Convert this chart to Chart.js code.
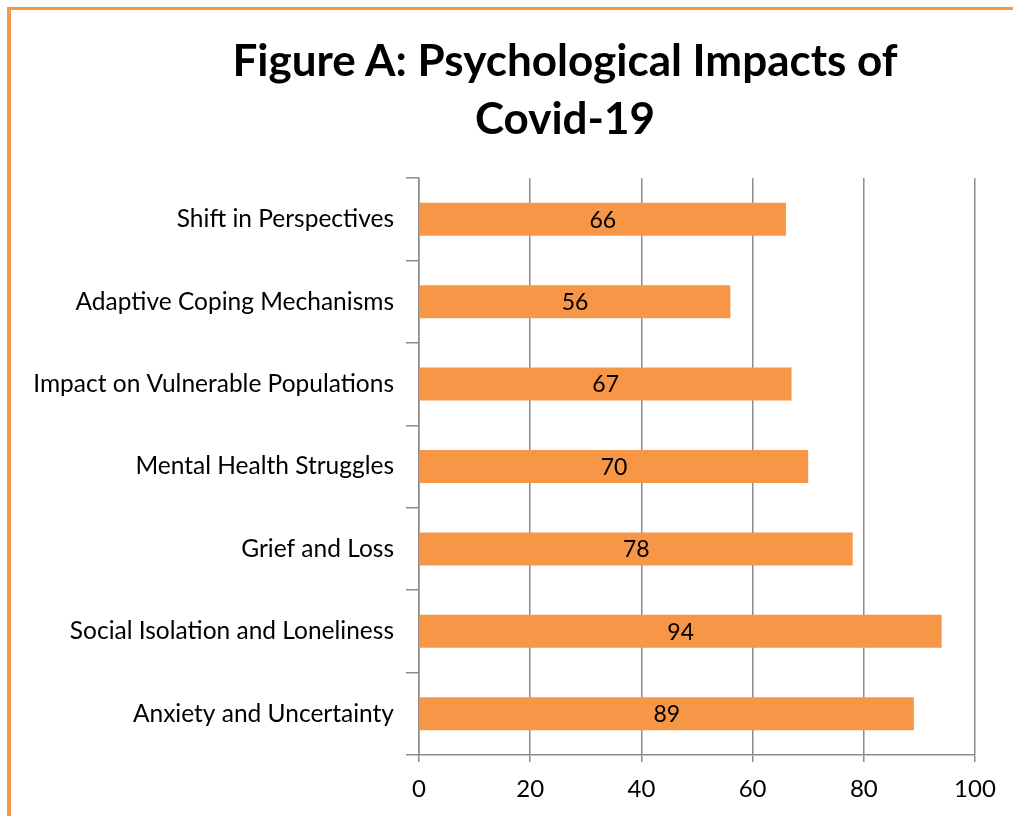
<!DOCTYPE html>
<html>
<head>
<meta charset="utf-8">
<script src="https://cdn.jsdelivr.net/npm/chart.js@4.4.1/dist/chart.umd.min.js"></script>
<style>
  body { margin: 0; background: #fff; }
  #wrap { position: relative; width: 1014px; height: 816px; overflow: hidden; }
  #frame { position: absolute; left: 7px; top: 7px; width: 1006px; height: 820px;
           border-top: 3px solid #F79646; border-left: 4px solid #F79646; box-sizing: border-box; }
  #title { position: absolute; left: 165px; width: 800px; top: 30px; text-align: center;
           font-family: Lato, sans-serif; font-weight: bold; font-size: 44px; line-height: 58px; color: #000; }
  canvas { position: absolute; left: 0; top: 0; }
</style>
</head>
<body>
<div id="wrap">
  <div id="frame"></div>
  <canvas id="chartBar" width="1014" height="816"></canvas>
  <div id="title">Figure A: Psychological Impacts of<br>Covid-19</div>
</div>
<script>
const categories = [
  "Shift in Perspectives",
  "Adaptive Coping Mechanisms",
  "Impact on Vulnerable Populations",
  "Mental Health Struggles",
  "Grief and Loss",
  "Social Isolation and Loneliness",
  "Anxiety and Uncertainty"
];
const values = [66, 56, 67, 70, 78, 94, 89];
const xTicks = [0, 20, 40, 60, 80, 100];

const barLabels = {
  id: "barLabels",
  afterDatasetsDraw(chart) {
    const ctx = chart.ctx;
    const meta = chart.getDatasetMeta(0);
    ctx.save();
    ctx.font = "23px Lato, sans-serif";
    ctx.fillStyle = "#000";
    ctx.textAlign = "center";
    ctx.textBaseline = "middle";
    meta.data.forEach((bar, i) => {
      ctx.fillText(values[i], (bar.x + bar.base) / 2, bar.y + 1);
    });
    ctx.restore();
  }
};

const ctxBar = document.getElementById("chartBar").getContext("2d");

new Chart(ctxBar, {
  type: "bar",
  data: {
    labels: categories,
    datasets: [
      {
        label: "Psychological Impacts",
        data: values,
        backgroundColor: "#F79646",
        borderWidth: 0,
        barPercentage: 0.4,
        categoryPercentage: 1,
      },
    ],
  },
  options: {
    indexAxis: "y",
    responsive: false,
    animation: false,
    layout: { padding: { top: 178, right: 39, bottom: 0, left: 0 } },
    plugins: {
      legend: { display: false },
      tooltip: { enabled: false },
    },
    scales: {
      x: {
        min: 0,
        max: 100,
        afterBuildTicks: (scale) => { scale.ticks = xTicks.map(v => ({ value: v })); },
        afterFit: (scale) => { scale.height = 61; },
        grid: { color: "#8c8c8c", lineWidth: 1.5, tickLength: 7, tickColor: "#8c8c8c" },
        border: { color: "#8c8c8c", width: 1.5 },
        ticks: { color: "#000", font: { family: "Lato, sans-serif", size: 24 }, padding: 13 },
      },
      y: {
        afterFit: (scale) => { scale.width = 419; },
        grid: { drawOnChartArea: false, tickLength: 13, tickColor: "#8c8c8c", lineWidth: 1.5, offset: true },
        border: { color: "#8c8c8c", width: 1.5 },
        ticks: { color: "#000", font: { family: "Lato, sans-serif", size: 24.5 }, padding: 12 },
      },
    },
  },
  plugins: [barLabels],
});
</script>
</body>
</html>
